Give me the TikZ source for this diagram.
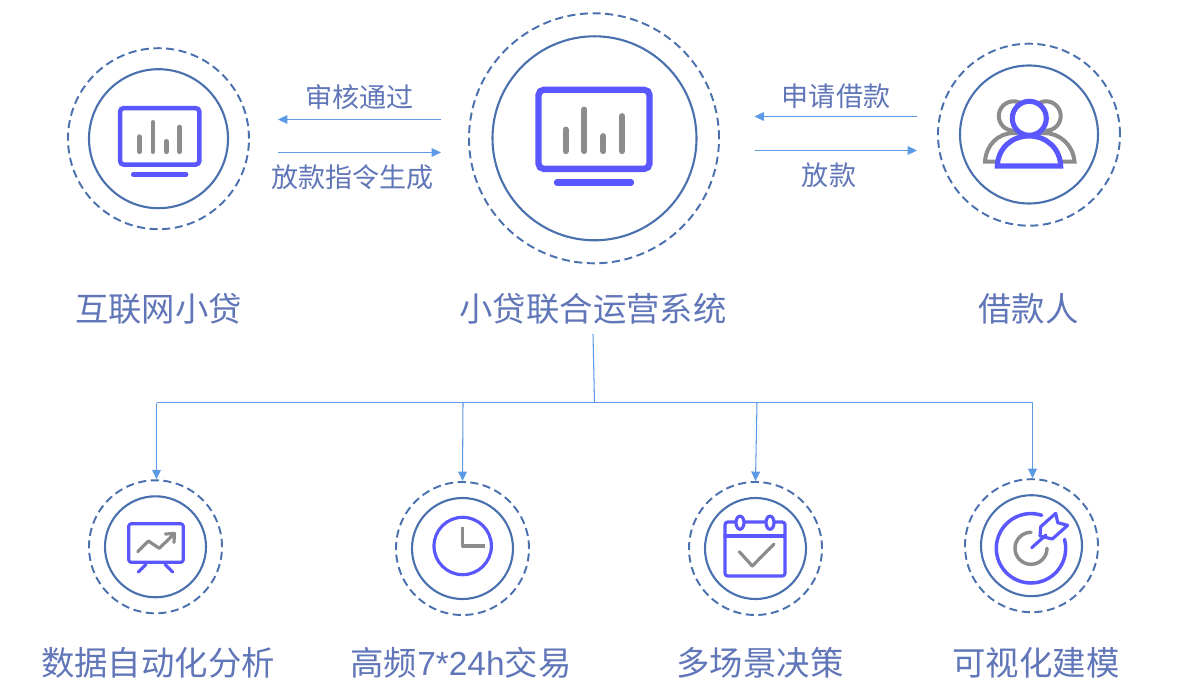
\documentclass[tikz,border=0pt]{standalone}
\usepackage{fontspec}
\setmainfont{Noto Sans CJK SC}
\newfontfamily\latinfont{Liberation Sans}
\usetikzlibrary{arrows.meta}
\definecolor{ringblue}{HTML}{4A70AE}
\definecolor{iconpurple}{HTML}{5B57FF}
\definecolor{icongray}{HTML}{8C8C8C}
\definecolor{flowblue}{HTML}{5C9AE6}
\definecolor{labelblue}{HTML}{6076B8}
\tikzset{
	outerring/.style={circle, draw=ringblue, line width=1.1pt, dash pattern=on 4.6pt off 2.6pt, inner sep=0pt, minimum size=#1*0.02cm},
	innerring/.style={circle, draw=ringblue, line width=1.2pt, inner sep=0pt, minimum size=#1*0.02cm},
	biglabel/.style={text=labelblue, font=\fontsize{19pt}{22pt}\selectfont, inner sep=0pt},
	smalllabel/.style={text=labelblue, font=\fontsize{15.4pt}{18pt}\selectfont, inner sep=0pt},
	flowline/.style={draw=flowblue, line width=0.6pt},
	flowarrow/.style={flowline, -{Triangle[length=5.4pt, width=5pt]}},
	purpleline/.style={draw=iconpurple, line width=1.8pt, line cap=round, line join=round},
	grayline/.style={draw=icongray, line width=1.8pt, line cap=round, line join=round}
}
\def\monitoricon(#1)(#2){
	\begin{scope}[shift={(#1)}, scale=#2]
		\draw[draw=iconpurple, line width=#2*3.6pt, rounded corners=#2*3pt] (-55.5, -48.2) rectangle (55.5, 30.9);
		\draw[draw=iconpurple, line width=#2*3.6pt, line cap=round] (-37, 44.5) -- (37, 44.5);
		\foreach \barx/\bartop in {-28.3/-8.3, -9.7/-28.3, 9.3/-1.7, 28/-21.7}
			\draw[draw=icongray, line width=#2*3.6pt, line cap=round] (\barx, 13) -- (\barx, \bartop);
	\end{scope}
}

\begin{document}
\begin{tikzpicture}[x=0.02cm, y=-0.02cm]
	%%%%% START %%%%%
	\useasboundingbox (0, 0) rectangle (1200, 689);

	% top row
	\node[outerring=181] (lenderouter) at (158.5, 138.7) {};
	\node[innerring=139] (lenderinner) at (158.5, 138.7) {};
	\node[outerring=250] (sysouter) at (594, 138.3) {};
	\node[innerring=204] (sysinner) at (594.5, 138.3) {};
	\node[outerring=182] (borrowerouter) at (1029, 134.7) {};
	\node[innerring=138] (borrowerinner) at (1029, 134.5) {};

	\node[biglabel] (lenderlabel) at (158.5, 309) {互联网小贷};
	\node[biglabel] (syslabel) at (593, 309) {小贷联合运营系统};
	\node[biglabel] (borrowerlabel) at (1028.5, 309) {借款人};

	% arrows between the top circles
	\coordinate (passa) at (441, 119.5);
	\coordinate (passb) at (278, 119.5);
	\coordinate (ordera) at (278, 152.5);
	\coordinate (orderb) at (441, 152.5);
	\coordinate (applya) at (917, 116.5);
	\coordinate (applyb) at (754.5, 116.5);
	\coordinate (loana) at (754.5, 150.5);
	\coordinate (loanb) at (917, 150.5);
	\draw[flowarrow] (passa) -- (passb);
	\draw[flowarrow] (ordera) -- (orderb);
	\draw[flowarrow] (applya) -- (applyb);
	\draw[flowarrow] (loana) -- (loanb);
	\node[smalllabel] (passlabel) at (359.5, 97) {审核通过};
	\node[smalllabel] (orderlabel) at (352.5, 177) {放款指令生成};
	\node[smalllabel] (applylabel) at (836, 96) {申请借款};
	\node[smalllabel] (loanlabel) at (829, 175) {放款};

	% bottom row
	\node[outerring=133] (dataouter) at (155.5, 546.8) {};
	\node[innerring=101] (datainner) at (155.5, 546.8) {};
	\node[outerring=133] (tradeouter) at (462.5, 548.5) {};
	\node[innerring=101] (tradeinner) at (462.5, 548.5) {};
	\node[outerring=133] (decideouter) at (755.5, 548.5) {};
	\node[innerring=101] (decideinner) at (755.5, 548.5) {};
	\node[outerring=133] (modelouter) at (1031.5, 545.7) {};
	\node[innerring=101] (modelinner) at (1031.5, 545.7) {};

	\node[biglabel] (datalabel) at (158, 663) {数据自动化分析};
	\node[biglabel] (tradelabel) at (461, 663) {高频{\latinfont 7*24h}交易};
	\node[biglabel] (decidelabel) at (760, 663) {多场景决策};
	\node[biglabel] (modellabel) at (1036, 663) {可视化建模};

	% tree
	\coordinate (sysstart) at (593, 334);
	\coordinate (busmid) at (594.5, 402.5);
	\coordinate (busa) at (156.5, 402.5);
	\coordinate (busb) at (463, 402.5);
	\coordinate (busc) at (757, 402.5);
	\coordinate (busd) at (1032.5, 402.5);
	\draw[flowline] (sysstart) -- (busmid);
	\draw[flowline] (busa) -- (busd);
	\draw[flowarrow] (busa) -- (dataouter.north -| busa);
	\draw[flowarrow] (busb) -- (tradeouter.north);
	\draw[flowarrow] (busc) -- (decideouter.north);
	\draw[flowarrow] (busd) -- (modelouter.north -| busd);

	% monitors
	\monitoricon(159.7, 142.5)(0.715)
	\monitoricon(594, 138)(1)

	% people
	\draw[draw=icongray, line width=2.3pt] (1013.5, 116) circle (14.7);
	\draw[draw=icongray, line width=2.3pt] (1046, 116) circle (14.7);
	\draw[draw=icongray, line width=2.3pt, fill=white] (985, 161.7) .. controls (986, 145) and (998, 133) .. (1014, 133) -- (1044, 133) .. controls (1060, 133) and (1073, 145) .. (1074.5, 161.7) -- cycle;
	\draw[draw=iconpurple, line width=2.9pt, fill=white] (997.3, 166) .. controls (998, 148) and (1012, 136) .. (1029, 136) .. controls (1046, 136) and (1060, 148) .. (1060.7, 166) -- cycle;
	\draw[draw=iconpurple, line width=2.9pt, fill=white] (1029.3, 118.3) circle (17);

	% presentation board
	\draw[purpleline, rounded corners=1.5pt] (128.7, 523.7) rectangle (183.3, 562.3);
	\draw[purpleline] (146, 564.5) -- (138.3, 572);
	\draw[purpleline] (165, 564.5) -- (172.7, 572);
	\draw[grayline] (137.7, 551.7) -- (148.3, 541) -- (159.3, 548.3) -- (174, 534);
	\draw[grayline] (165.5, 534) -- (174.5, 533.5) -- (174, 542.5);

	% clock
	\draw[purpleline] (462.7, 546) circle (28.7);
	\draw[grayline, line cap=butt] (462.7, 526.7) -- (462.7, 546) -- (485, 546);

	% calendar
	\draw[purpleline, rounded corners=1.5pt] (725, 522) rectangle (785, 576);
	\draw[purpleline] (725, 536) -- (785, 536);
	\draw[purpleline, fill=white] (740, 522.7) ellipse (4 and 6.6);
	\draw[purpleline, fill=white] (770, 522.7) ellipse (4 and 6.6);
	\draw[grayline] (739.3, 551.7) -- (752.3, 566) -- (774, 544);

	% target
	\draw[purpleline, line width=2pt] (1031, 548.3) ++(-72:34.7) arc (-72:-375:34.7);
	\draw[grayline, line width=2pt] (1031, 548.3) ++(-90:16) arc (-90:-360:16);
	\draw[purpleline] (1031.7, 547.7) -- (1046, 535);
	\draw[purpleline] (1055.7, 513.3) -- (1057.7, 522.7) -- (1067.7, 525.3) -- (1052.3, 539) -- (1040, 536) -- (1040.7, 526.7) -- cycle;

	%%%%% END %%%%%
\end{tikzpicture}
\end{document}
